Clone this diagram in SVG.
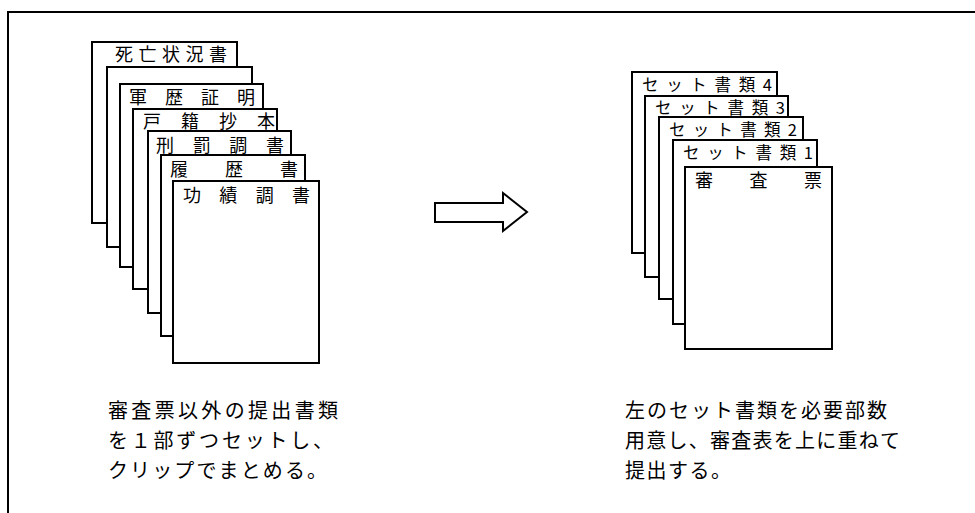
<svg xmlns="http://www.w3.org/2000/svg" width="975" height="513" viewBox="0 0 975 513">
<style>
.sheet{fill:#fff;stroke:#000;stroke-width:2}
.tab{font-family:"Noto Sans CJK JP","Noto Sans",sans-serif;font-size:18px;fill:#000}
.tab.set{font-size:16.5px}
.cap{font-family:"Noto Sans CJK JP","Noto Sans",sans-serif;font-size:20px;fill:#000}
.frame{fill:none;stroke:#000;stroke-width:2}
</style>
<path class="frame" d="M8,513 V12 H975"/>
<g id="left-stack">
<g id="sheet-shibou"><rect class="sheet" x="92" y="42" width="145" height="181"/><text class="tab" x="115" y="61" textLength="112" lengthAdjust="spacing">死亡状況書</text></g>
<g id="sheet-blank"><rect class="sheet" x="107" y="67" width="145" height="180"/></g>
<g id="sheet-gunreki"><rect class="sheet" x="120" y="84" width="143" height="183"/><text class="tab" x="129" y="104" textLength="126" lengthAdjust="spacing">軍歴証明</text></g>
<g id="sheet-koseki"><rect class="sheet" x="133" y="109" width="144" height="180"/><text class="tab" x="143" y="128" textLength="132" lengthAdjust="spacing">戸籍抄本</text></g>
<g id="sheet-keibatsu"><rect class="sheet" x="148" y="131" width="143" height="182"/><text class="tab" x="156" y="152" textLength="128" lengthAdjust="spacing">刑罰調書</text></g>
<g id="sheet-rireki"><rect class="sheet" x="161" y="155" width="144" height="181"/><text class="tab" x="170" y="176" textLength="128" lengthAdjust="spacing">履歴書</text></g>
<g id="sheet-koseki-chosho"><rect class="sheet" x="173" y="181" width="146" height="182"/><text class="tab" x="183" y="202" textLength="127" lengthAdjust="spacing">功績調書</text></g>
</g>
<g id="connectors">
<polygon class="sheet" points="435,203 503,203 503,193 527,212 503,231 503,222 435,222"/>
</g>
<g id="right-stack">
<g id="set-4"><rect class="sheet" x="632" y="72" width="145" height="181"/><text class="tab set" x="642" y="91" textLength="130" lengthAdjust="spacing">セット書類4</text></g>
<g id="set-3"><rect class="sheet" x="645" y="96" width="143" height="181"/><text class="tab set" x="655" y="114" textLength="130" lengthAdjust="spacing">セット書類3</text></g>
<g id="set-2"><rect class="sheet" x="659" y="117" width="144" height="182"/><text class="tab set" x="669" y="136" textLength="128" lengthAdjust="spacing">セット書類2</text></g>
<g id="set-1"><rect class="sheet" x="673" y="140" width="144" height="184"/><text class="tab set" x="683" y="159" textLength="130" lengthAdjust="spacing">セット書類1</text></g>
<g id="shinsahyo"><rect class="sheet" x="685" y="167" width="147" height="182"/><text class="tab" x="695" y="187" textLength="127" lengthAdjust="spacing">審査票</text></g>
</g>
<g id="caption-left">
<text class="cap" x="108" y="418" textLength="230" lengthAdjust="spacing">審査票以外の提出書類</text>
<text class="cap" x="108" y="448" textLength="225" lengthAdjust="spacing">を１部ずつセットし、</text>
<text class="cap" x="108" y="478" textLength="219" lengthAdjust="spacing">クリップでまとめる。</text>
</g>
<g id="caption-right">
<text class="cap" x="625" y="418" textLength="262" lengthAdjust="spacing">左のセット書類を必要部数</text>
<text class="cap" x="625" y="448" textLength="275" lengthAdjust="spacing">用意し、審査表を上に重ねて</text>
<text class="cap" x="625" y="478" textLength="106" lengthAdjust="spacing">提出する。</text>
</g>
</svg>
